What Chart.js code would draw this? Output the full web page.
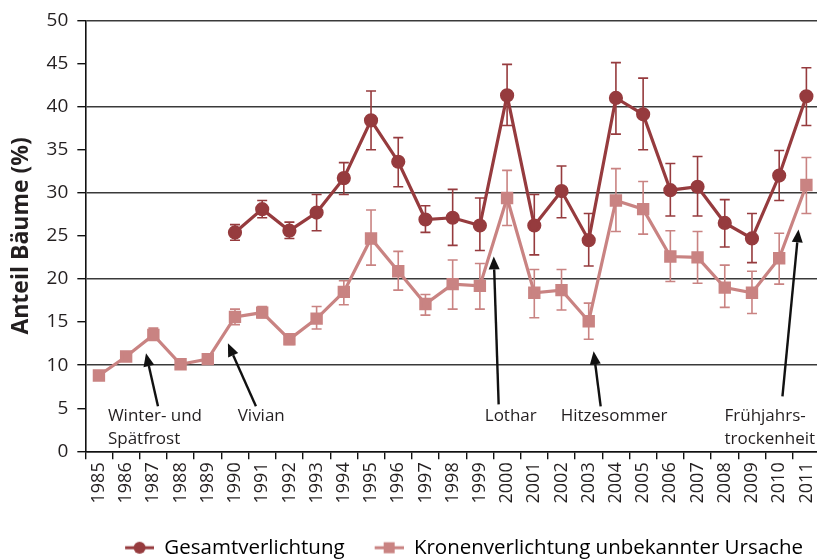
<!DOCTYPE html>
<html>
<head>
<meta charset="utf-8">
<script src="https://cdn.jsdelivr.net/npm/chart.js@4"></script>
<style>
  html, body { margin: 0; padding: 0; background: #fff; overflow: hidden; }
  #wrap { width: 817px; height: 560px; }
</style>
</head>
<body>
<div id="wrap"><canvas id="chart" width="817" height="560"></canvas></div>
<script>
// ─── data ──────────────────────────────────────────────────────
const YEARS = ['1985','1986','1987','1988','1989','1990','1991','1992','1993','1994',
               '1995','1996','1997','1998','1999','2000','2001','2002','2003','2004',
               '2005','2006','2007','2008','2009','2010','2011']

const GESAMT    = [null,null,null,null,null,25.4,28.1,25.6,27.7,31.7,38.4,33.6,26.9,27.1,26.2,41.3,26.2,30.2,24.5,41.0,39.1,30.3,30.7,26.5,24.7,32.0,41.2]
const GESAMT_LO = [null,null,null,null,null,24.5,27.1,24.7,25.6,29.8,35.0,30.7,25.4,23.9,23.3,37.8,22.8,27.1,21.5,36.8,35.0,27.3,27.3,23.7,21.9,29.1,37.8]
const GESAMT_HI = [null,null,null,null,null,26.3,29.1,26.6,29.8,33.5,41.8,36.4,28.5,30.4,29.4,44.9,29.8,33.1,27.6,45.1,43.3,33.4,34.2,29.2,27.6,34.9,44.5]

const KRONEN    = [8.8,11.0,13.5,10.1,10.7,15.6,16.1,13.0,15.4,18.5,24.7,20.9,17.1,19.4,19.2,29.4,18.4,18.7,15.1,29.1,28.1,22.6,22.5,19.0,18.4,22.4,30.9]
const KRONEN_LO = [8.3,10.5,12.9,9.6,10.2,14.7,15.5,12.4,14.2,17.0,21.6,18.7,15.8,16.5,16.5,26.2,15.5,16.4,13.0,25.5,25.2,19.7,19.5,16.7,16.0,19.4,27.6]
const KRONEN_HI = [9.2,11.4,14.3,10.4,11.1,16.5,16.8,13.6,16.8,19.8,28.0,23.2,18.2,22.2,21.8,32.6,21.1,21.1,17.2,32.8,31.3,25.6,25.5,21.6,20.9,25.3,34.1]

// Ereignis-Beschriftungen (x = Jahr-Index, y = Wert)
const NOTE_TEXT  = [['Winter- und', 'Spätfrost'], ['Vivian'], ['Lothar'], ['Hitzesommer'], ['Frühjahrs-', 'trockenheit']]
const NOTE_AT    = [[0.33, 4.06], [5.1, 4.06], [14.18, 4.06], [16.97, 4.06], [22.99, 4.06]]
const ARROW_FROM = [[2.17, 5.22], [5.77, 5.22], [14.69, 5.45], [18.44, 5.22], [25.12, 6.38]]
const ARROW_TO   = [[1.73, 11.37], [4.74, 12.53], [14.51, 22.62], [18.18, 11.6], [25.71, 25.75]]

// ─── styles ────────────────────────────────────────────────────
const DARK  = '#963b3e'
const LIGHT = '#c98382'
const TEXT  = '#231f20'
const FONT  = "'Open Sans', sans-serif"
const PLOT_RIGHT = 820   // plot runs slightly past the canvas edge, like the original

// legend icons: line + marker (left blank part = gap between items)
function legendIcon(color, shape) {
  const c = document.createElement('canvas')
  c.width = 42; c.height = 14
  const g = c.getContext('2d')
  g.strokeStyle = color; g.lineWidth = 3
  g.beginPath(); g.moveTo(13, 7); g.lineTo(42, 7); g.stroke()
  g.fillStyle = color
  if (shape === 'circle') { g.beginPath(); g.arc(27.5, 7, 6, 0, Math.PI * 2); g.fill() }
  else g.fillRect(22, 1.5, 11, 11)
  return c
}
const ICONS = [legendIcon(DARK, 'circle'), legendIcon(LIGHT, 'rect')]

// stretch the x scale to the right edge (rotated labels reserve extra room otherwise)
const stretchRight = {
  id: 'stretchRight',
  afterLayout(chart) {
    const x = chart.scales.x
    x.right = PLOT_RIGHT
    x.width = x.right - x.left
    x.configure()
    chart.chartArea.right = PLOT_RIGHT
    chart.chartArea.width = PLOT_RIGHT - chart.chartArea.left
  }
}

// error bars
const errorBars = {
  id: 'errorBars',
  beforeDatasetsDraw(chart) {
    const { ctx, scales: { x, y } } = chart
    chart.data.datasets.forEach(ds => {
      ctx.save()
      ctx.strokeStyle = ds.borderColor
      ctx.lineWidth = 1.6
      ds.errLo.forEach((lo, i) => {
        const hi = ds.errHi[i]
        if (lo == null || hi == null) return
        const px = x.getPixelForValue(i)
        const y1 = y.getPixelForValue(lo), y2 = y.getPixelForValue(hi)
        ctx.beginPath()
        ctx.moveTo(px, y1); ctx.lineTo(px, y2)
        ctx.moveTo(px - 5, y1); ctx.lineTo(px + 5, y1)
        ctx.moveTo(px - 5, y2); ctx.lineTo(px + 5, y2)
        ctx.stroke()
      })
      ctx.restore()
    })
  }
}

// annotations with arrows
const notes = {
  id: 'notes',
  afterDatasetsDraw(chart) {
    const { ctx, scales: { x, y } } = chart
    ctx.save()
    ctx.fillStyle = TEXT
    ctx.strokeStyle = '#111'
    ctx.font = `17px ${FONT}`
    ctx.textBaseline = 'middle'
    ctx.textAlign = 'left'
    NOTE_TEXT.forEach((lines, k) => {
      const px = x.getPixelForValue(NOTE_AT[k][0])
      const py = y.getPixelForValue(NOTE_AT[k][1])
      lines.forEach((t, j) => ctx.fillText(t, px, py + j * 23))

      const x1 = x.getPixelForValue(ARROW_FROM[k][0]), y1 = y.getPixelForValue(ARROW_FROM[k][1])
      const x2 = x.getPixelForValue(ARROW_TO[k][0]),   y2 = y.getPixelForValue(ARROW_TO[k][1])
      const a = Math.atan2(y2 - y1, x2 - x1)
      const len = 13, half = 5.5
      const bx = x2 - len * Math.cos(a), by = y2 - len * Math.sin(a)
      ctx.lineWidth = 2.4
      ctx.beginPath(); ctx.moveTo(x1, y1); ctx.lineTo(bx, by); ctx.stroke()
      ctx.fillStyle = '#111'
      ctx.beginPath()
      ctx.moveTo(x2, y2)
      ctx.lineTo(bx + half * Math.sin(a), by - half * Math.cos(a))
      ctx.lineTo(bx - half * Math.sin(a), by + half * Math.cos(a))
      ctx.closePath(); ctx.fill()
      ctx.fillStyle = TEXT
    })
    ctx.restore()
  }
}

Chart.defaults.font.family = FONT
Chart.defaults.color = TEXT

new Chart(document.getElementById('chart'), {
  type: 'line',
  data: {
    labels: YEARS,
    datasets: [
      {
        label: 'Gesamtverlichtung', data: GESAMT, errLo: GESAMT_LO, errHi: GESAMT_HI,
        borderColor: DARK, backgroundColor: DARK, borderWidth: 3.2,
        pointStyle: 'circle', pointRadius: 5.5, tension: 0,
      },
      {
        label: 'Kronenverlichtung unbekannter Ursache', data: KRONEN, errLo: KRONEN_LO, errHi: KRONEN_HI,
        borderColor: LIGHT, backgroundColor: LIGHT, borderWidth: 3.2,
        pointStyle: 'rect', pointRadius: 6.5, tension: 0,
      }
    ]
  },
  options: {
    responsive: false, animation: false,
    layout: { padding: { left: 8, right: -3, top: 12, bottom: -8 } },
    plugins: {
      tooltip: { enabled: false },
      legend: {
        position: 'bottom', align: 'end',
        labels: {
          usePointStyle: true, pointStyleWidth: 42, padding: 17,
          font: { size: 20.5 }, color: TEXT,
          generateLabels: chart => chart.data.datasets.map((ds, i) => ({
            text: ds.label, pointStyle: ICONS[i], fillStyle: ds.borderColor,
            strokeStyle: ds.borderColor, lineWidth: 0, hidden: false, datasetIndex: i,
          }))
        }
      }
    },
    scales: {
      x: {
        offset: true,
        afterFit: scale => { scale.height += 14 },
        grid: { offset: true, drawOnChartArea: false, drawTicks: true, tickLength: 8, color: '#111', lineWidth: 1.4 },
        border: { color: '#111', width: 1.6 },
        ticks: { minRotation: 90, maxRotation: 90, autoSkip: false, font: { size: 18 }, color: TEXT, padding: 3 }
      },
      y: {
        min: 0, max: 50,
        grid: {
          color: ctx => (ctx.tick && ctx.tick.value % 10 === 0) ? '#3a3a3a' : 'rgba(0,0,0,0)',
          tickColor: '#111', tickLength: 8, lineWidth: 1.4,
        },
        border: { color: '#111', width: 1.6 },
        ticks: { stepSize: 5, font: { size: 19 }, color: TEXT, padding: 9 },
        title: { display: true, text: 'Anteil Bäume (%)', font: { size: 23, weight: 'bold' }, color: TEXT, padding: { top: 0, bottom: 2 } }
      }
    }
  },
  plugins: [stretchRight, errorBars, notes]
})
</script>
</body>
</html>
